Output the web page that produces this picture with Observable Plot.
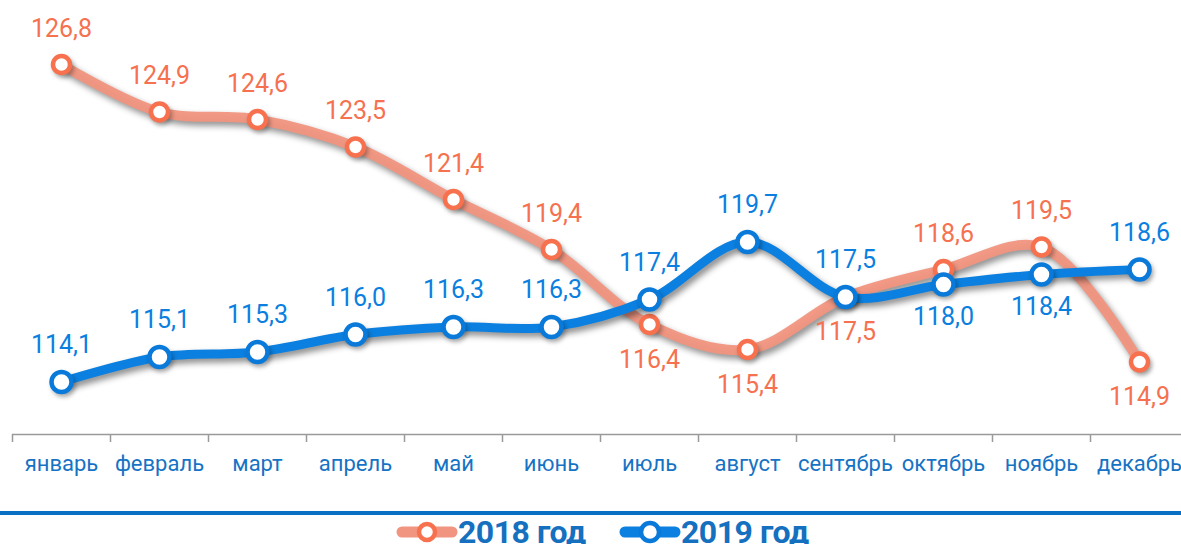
<!DOCTYPE html>
<html><head><meta charset="utf-8">
<script src="https://cdn.jsdelivr.net/npm/d3@7"></script>
<script src="https://cdn.jsdelivr.net/npm/@observablehq/plot@0.6"></script>
<style>
body{margin:0;background:#fff;font-family:"Roboto",sans-serif;}
#sep{height:4px;background:#0A70C4;margin-top:6px;}
#legend{position:relative;height:40px;font-weight:bold;font-size:32px;color:#1570C0;letter-spacing:-0.5px;}
.item{position:absolute;top:-2px;display:flex;align-items:center;gap:0px;}
</style></head>
<body>
<div id="chart"></div>
<div id="sep"></div>
<div id="legend"></div>
<script>
const months = ["январь","февраль","март","апрель","май","июнь","июль","август","сентябрь","октябрь","ноябрь","декабрь"];
const v2018 = [126.8,124.9,124.6,123.5,121.4,119.4,116.4,115.4,117.5,118.6,119.5,114.9];
const v2019 = [114.1,115.1,115.3,116.0,116.3,116.3,117.4,119.7,117.5,118.0,118.4,118.6];
const below2018 = [0,0,0,0,0,0,1,1,1,0,0,1];
const below2019 = [0,0,0,0,0,0,0,0,0,1,1,0];
const seriesNames = ["2018 год","2019 год"];

const orangeLine = "#F19580", orangeDot = "#F7714E", orangeText = "#F5714F";
const blueLine = "#0B80E0", blueDot = "#0A7ADA", blueText = "#0A7FE0";
const fmt = v => v.toFixed(1).replace(".", ",");

const d18 = months.map((m,i)=>({i, m, v:v2018[i], below:below2018[i]}));
const d19 = months.map((m,i)=>({i, m, v:v2019[i], below:below2019[i]}));
const font = '"Roboto",sans-serif';

const chart = Plot.plot({
  width: 1181, height: 505,
  marginLeft: 12, marginRight: 0, marginTop: 34, marginBottom: 71,
  x: {domain: [-0.5, 11.5 - 7/98], label: null},
  y: {domain: [112, 128], label: null, axis: null},
  style: {fontFamily: font, background: "#fff"},
  marks: [
    Plot.ruleY([112], {stroke: "#9a9a9a", strokeWidth: 1.5}),
    Plot.axisX({ticks: d3.range(-0.5, 12, 1), tickFormat: () => "", tickSize: 8, stroke: "#9a9a9a", strokeWidth: 1.5, label: null}),
    Plot.axisX({ticks: d3.range(12), tickFormat: i => months[i], tickSize: 0, tickPadding: 21, fontSize: 22, fill: "#1673C4", label: null}),
    Plot.line(d18, {x: "i", y: "v", curve: "catmull-rom", stroke: orangeLine, strokeWidth: 10, strokeOpacity: 0.95}),
    Plot.line(d19, {x: "i", y: "v", curve: "catmull-rom", stroke: blueLine, strokeWidth: 9}),
    Plot.dot(d18, {x: "i", y: "v", r: 8.5, fill: "#fff", stroke: orangeDot, strokeWidth: 4.5}),
    Plot.dot(d19, {x: "i", y: "v", r: 10, fill: "#fff", stroke: blueDot, strokeWidth: 4.5}),
    Plot.text(d18.filter(d=>!d.below), {x: "i", y: "v", text: d=>fmt(d.v), dy: -36, fill: orangeText, fontSize: 25}),
    Plot.text(d18.filter(d=>d.below), {x: "i", y: "v", text: d=>fmt(d.v), dy: 35, fill: orangeText, fontSize: 25}),
    Plot.text(d19.filter(d=>!d.below), {x: "i", y: "v", text: d=>fmt(d.v), dy: -37, fill: blueText, fontSize: 25}),
    Plot.text(d19.filter(d=>d.below), {x: "i", y: "v", text: d=>fmt(d.v), dy: 32, fill: blueText, fontSize: 25})
  ]
});
d3.select(chart).selectAll('g[aria-label="line"]').style("filter", "drop-shadow(3px 4px 3px rgba(0,0,0,0.45))");
d3.select(chart).selectAll('g[aria-label="dot"]').style("filter", "drop-shadow(2px 3px 2px rgba(0,0,0,0.3))");
document.getElementById("chart").appendChild(chart);

const leg = d3.select("#legend");
[[orangeLine, orangeDot, 8, seriesNames[0], 394], [blueLine, blueDot, 9, seriesNames[1], 617]].forEach(([lc, dc, r, name, left]) => {
  const it = leg.append("div").attr("class","item").style("left", left + "px");
  const s = it.append("svg").attr("width", 64).attr("height", 30);
  s.append("line").attr("x1",8).attr("x2",58).attr("y1",15).attr("y2",15).attr("stroke",lc).attr("stroke-width",11).attr("stroke-linecap","round");
  s.append("circle").attr("cx",33).attr("cy",15).attr("r",r).attr("fill","#fff").attr("stroke",dc).attr("stroke-width",4.5);
  it.append("span").text(name);
});
</script>
</body></html>
